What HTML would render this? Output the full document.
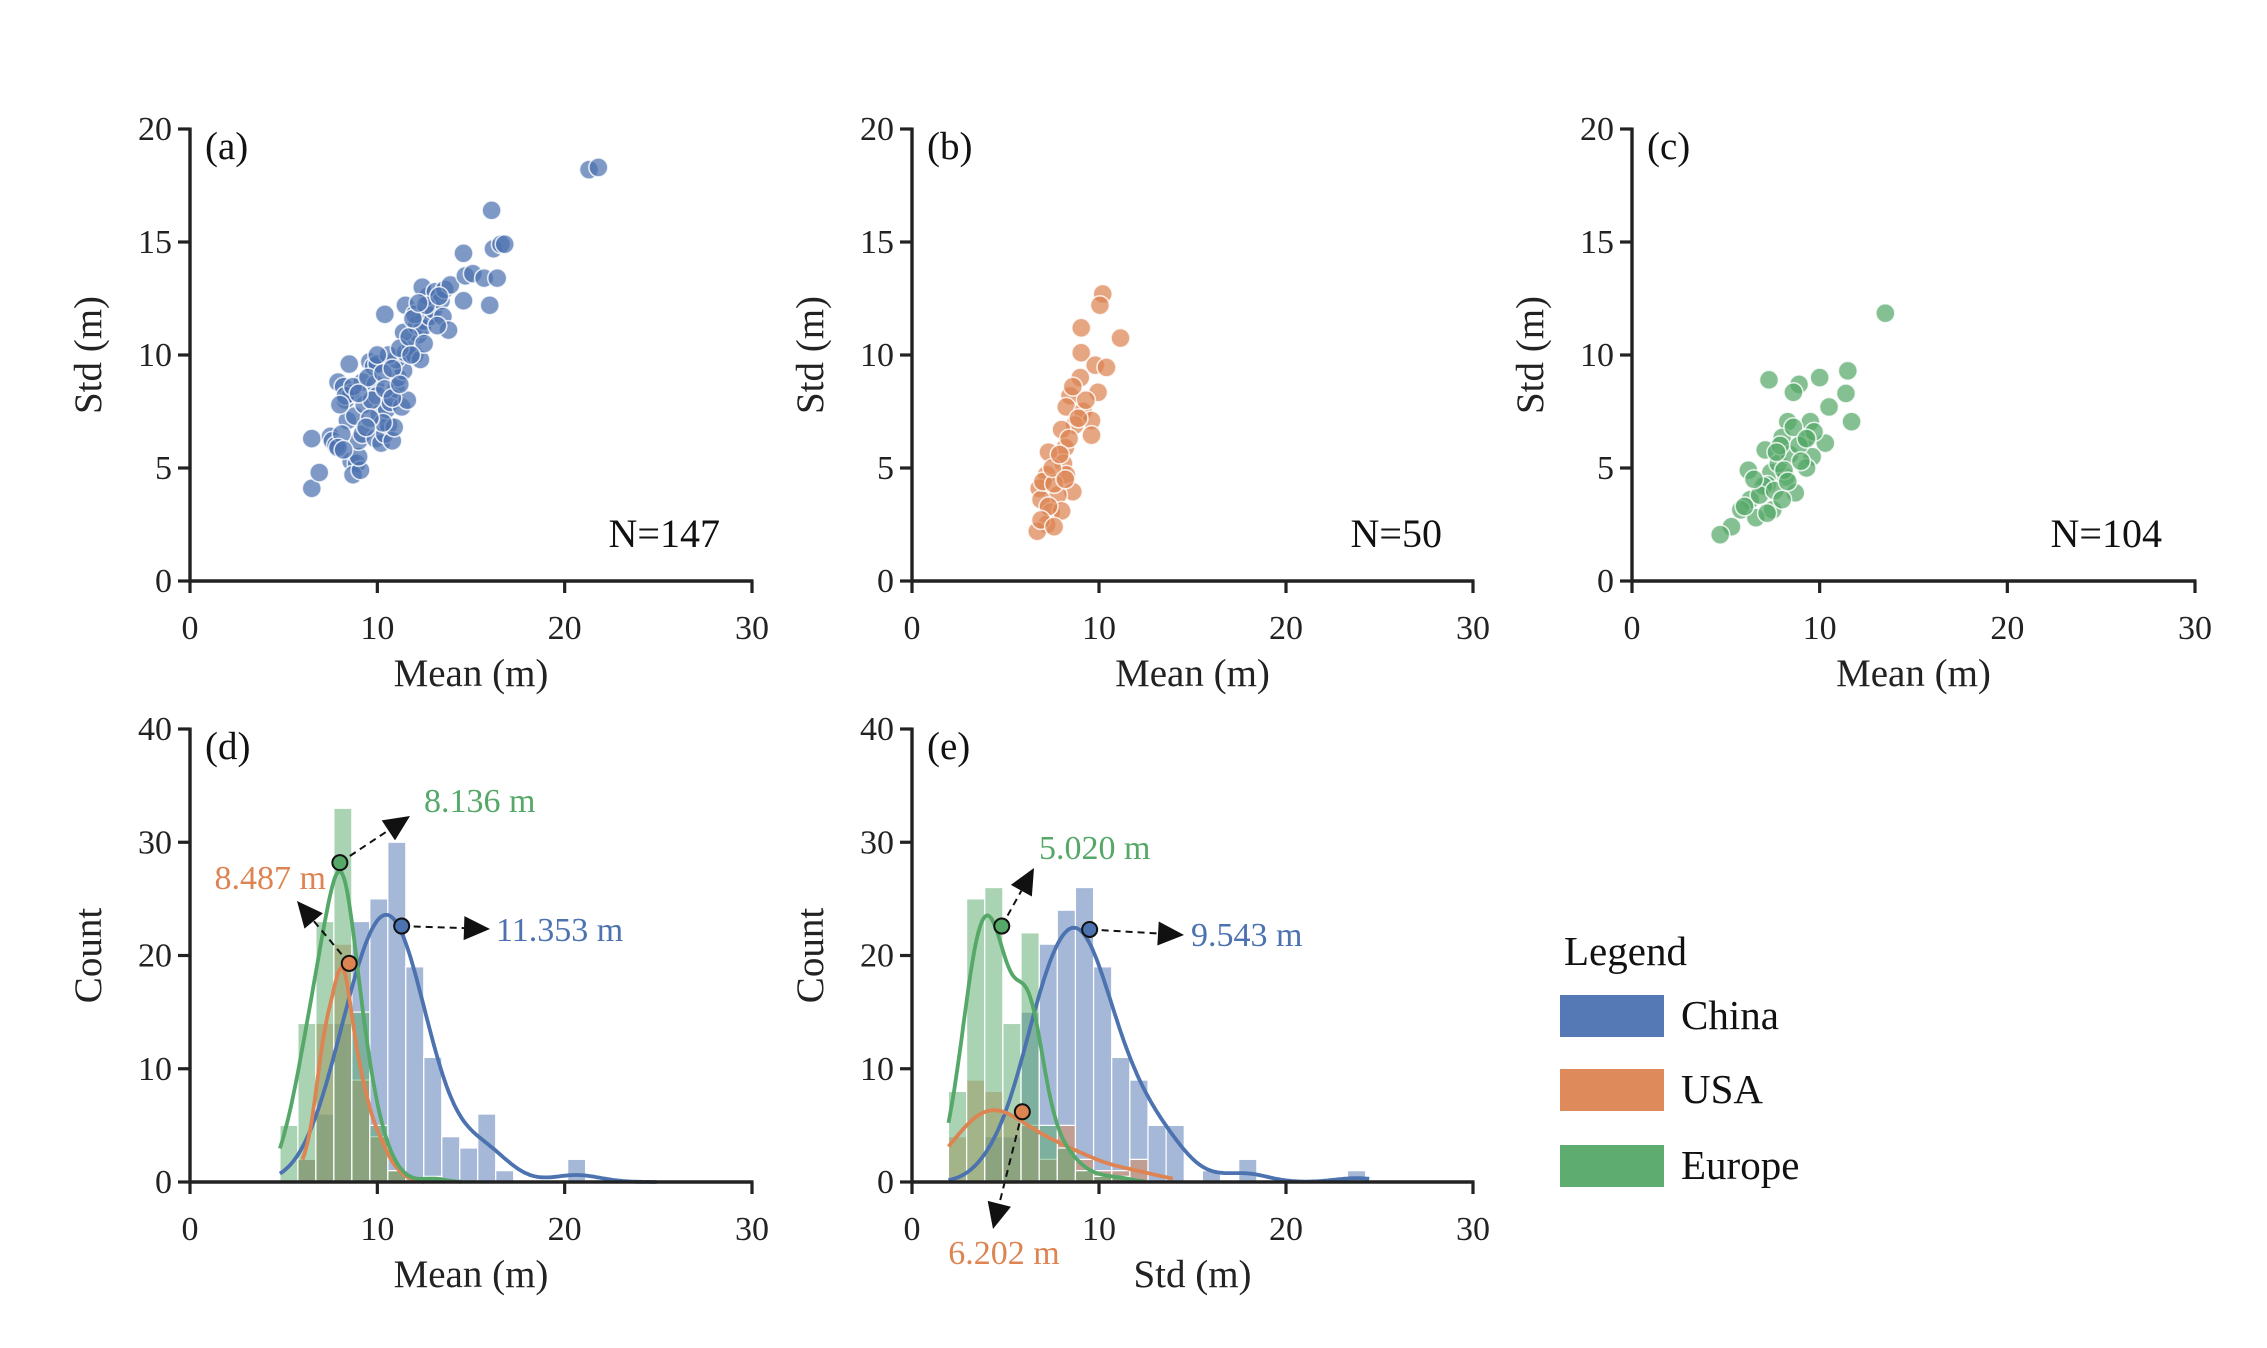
<!DOCTYPE html>
<html><head><meta charset="utf-8">
<style>
html,body{margin:0;padding:0;background:#fff;}
svg{display:block;font-family:"Liberation Serif",serif;}
</style></head>
<body>
<svg id="fig" width="2267" height="1348" viewBox="0 0 2267 1348" xmlns="http://www.w3.org/2000/svg">
<rect width="2267" height="1348" fill="#fff"/>
<g id="root"></g>
</svg>
<script>
// ---------- data ----------
const chinaMean=[6.5,6.9,6.5,7.5,7.6,7.8,7.9,8.2,8.5,8.3,8.6,8.4,8.6,8.9,8.7,9.1,9.0,9.0,9.2,8.8,9.3,9.2,9.6,9.8,10.0,9.9,10.0,10.1,9.9,10.2,10.4,10.6,10.8,10.9,10.5,10.7,11.0,11.3,11.6,11.1,11.4,11.0,10.6,11.5,11.8,12.0,12.3,12.2,11.4,10.4,11.5,12.1,12.5,12.4,12.8,13.0,12.7,12.4,13.1,13.4,13.5,13.8,13.6,13.9,14.6,14.7,14.6,15.1,15.7,16.0,16.4,16.2,16.6,16.8,16.1,21.3,21.8,8.3,8.7,9.5,9.7,10.3,10.4,10.8,11.2,11.7,12.0,12.6,13.2,10.3,9.6,9.4,10.8,11.2,12.5,9.0,8.0,8.1,7.9,8.2,10.0,11.8,11.9,12.2,13.3];
const chinaStd=[4.1,4.8,6.3,6.4,6.2,6.0,8.8,8.6,9.6,8.0,8.3,7.1,5.3,5.2,4.7,4.9,5.5,6.2,6.5,7.3,7.8,8.8,9.7,9.5,9.6,8.7,8.2,7.4,6.3,6.1,6.5,6.9,6.2,6.8,7.6,7.9,8.5,7.7,8.0,9.0,9.3,9.8,10.0,10.1,10.4,10.0,9.8,10.9,11.0,11.8,12.2,11.3,11.5,11.2,11.7,12.0,12.6,13.0,12.8,12.4,11.7,11.1,12.9,13.1,12.4,13.5,14.5,13.6,13.4,12.2,13.4,14.7,14.9,14.9,16.4,18.2,18.3,8.2,8.6,9.0,8.0,9.2,8.5,9.4,10.3,10.8,11.8,12.2,11.3,7.0,7.2,6.8,8.1,8.7,10.5,8.3,7.8,6.5,5.9,5.8,10.0,10.0,11.6,12.3,12.6];
const usaMean=[10.2,10.05,9.05,11.15,9.05,9.8,10.4,9.0,9.95,8.45,8.25,9.15,9.6,8.7,9.6,8.0,8.2,7.3,8.1,7.2,8.25,6.8,8.6,7.8,6.9,7.45,8.0,7.2,6.7,7.0,7.6,7.5,8.4,8.9,7.9,9.3,7.3,6.9,8.2,8.6,7.6];
const usaStd=[12.7,12.2,11.2,10.75,10.1,9.55,9.45,9.0,8.35,8.2,7.7,7.5,7.1,6.9,6.45,6.7,5.9,5.7,5.2,4.7,4.7,4.1,3.95,3.8,3.6,3.05,3.1,2.5,2.2,4.4,4.3,5.0,6.3,7.2,5.6,8.0,3.3,2.7,4.5,8.6,2.4];
const euMean=[13.5,7.3,8.9,8.6,10.0,11.5,11.4,10.5,11.7,8.3,9.5,8.0,9.2,10.3,7.1,9.6,6.2,7.4,9.3,8.2,7.2,8.7,6.3,5.8,7.5,6.6,5.3,4.7,7.8,8.4,8.9,7.0,6.8,7.6,8.1,9.0,8.6,7.9,9.7,6.0,7.2,8.0,6.5,7.7,9.3,8.3];
const euStd=[11.85,8.9,8.7,8.35,9.0,9.3,8.3,7.7,7.05,7.05,7.05,6.35,6.3,6.1,5.8,5.5,4.9,4.8,5.0,4.6,4.25,3.9,3.6,3.15,3.15,2.8,2.4,2.05,5.2,5.6,6.0,4.2,3.8,4.0,4.9,5.3,6.8,6.0,6.6,3.3,3.0,3.6,4.5,5.7,6.3,4.4];
// histogram (d): bins start 4.8, width 0.96
const dBinStart=4.8, dBinWidth=0.96;
const dChina=[0,2,6,14,23,25,30,19,11,4,3,6,1,0,0,0,2];
const dUSA=[0,2,14,21,9,4,1];
const dEurope=[5,14,23,33,15,5,1,0,0.5];
// histogram (e): bins start 1.95, width 0.97
const eBinStart=1.95, eBinWidth=0.97;
const eChina=[0,0,4,4,15,21,24,26,19,11,9,5,5,0,1,0,2,0,0,0,0,0,1];
const eUSA=[4,9,8,6,5,2,5,2,1,1,2];
const eEurope=[8,25,26,14,22,5,3,1,0.5,0.5];
const xTicks=[0,10,20,30];
const yTicksTop=[0,5,10,15,20];
const yTicksBot=[0,10,20,30,40];
const nLabels=["N=147","N=50","N=104"];

const C={china:"#4c72b0",usa:"#dd8452",eu:"#55a868"};
const NS="http://www.w3.org/2000/svg";
const root=document.getElementById('root');
function mk(tag,attrs,parent){const e=document.createElementNS(NS,tag);for(const k in attrs)e.setAttribute(k,attrs[k]);(parent||root).appendChild(e);return e;}
function txt(s,attrs,parent){const e=mk('text',attrs,parent);e.textContent=s;return e;}

function makeAxes(p){
  const g=mk('g',{});
  
  
  p.sx=v=>p.x0+(v/30)*(p.x1-p.x0);
  p.sy=v=>p.y0-(v/p.ymax)*(p.y0-p.yt);
  p.g=g;
  return p;
}
function drawFrame(p,yTicks,xl,yl,lab){
  const g=p.g;
  const ax=mk('g',{},g);
  
  
  mk('line',{x1:p.x0-1.5,y1:p.y0,x2:p.x1+1.5,y2:p.y0,stroke:'#222','stroke-width':3.4},ax);
  xTicks.forEach(t=>{
    mk('line',{x1:p.sx(t),y1:p.y0,x2:p.sx(t),y2:p.y0+12,stroke:'#222','stroke-width':3.2},ax);
    const l=txt(String(t),{x:p.sx(t),y:p.y0+58,'font-size':34,'text-anchor':'middle',fill:'#222'},ax);
    
    
  });
  const ay=mk('g',{},g);
  
  
  mk('line',{x1:p.x0,y1:p.y0+1.5,x2:p.x0,y2:p.yt-1.5,stroke:'#222','stroke-width':3.4},ay);
  yTicks.forEach(t=>{
    mk('line',{x1:p.x0-12,y1:p.sy(t),x2:p.x0,y2:p.sy(t),stroke:'#222','stroke-width':3.2},ay);
    const l=txt(String(t),{x:p.x0-18,y:p.sy(t)+11,'font-size':34,'text-anchor':'end',fill:'#222'},ay);
    
    
  });
  const xt=txt(xl,{x:(p.x0+p.x1)/2,y:p.y0+105,'font-size':39,'text-anchor':'middle',fill:'#222'},g);
  
  
  const cy=(p.y0+p.yt)/2, cx=p.x0-102;
  const yt=txt(yl,{x:cx,y:cy,'font-size':39,'text-anchor':'middle',fill:'#222',transform:`rotate(-90 ${cx} ${cy}) translate(0 13)`},g);
  
  
  const pl=txt(lab,{x:p.x0+15,y:p.yt+30,'font-size':39,fill:'#111'},g);
  
  
}
function scatter(p,xs,ys,col,n){
  const g=mk('g',{},p.g);
  
  
  xs.forEach((x,i)=>{
    const c=mk('circle',{cx:p.sx(x),cy:p.sy(ys[i]),r:9.5,fill:col,'fill-opacity':0.72,stroke:'#fff','stroke-opacity':0.8,'stroke-width':1.6},g);
    
    
  });
  const t=txt(n,{x:p.x0+530,y:p.y0-34,'font-size':40,'text-anchor':'end',fill:'#111'},p.g);
  
  
}
function hist(p,counts,start,w,col,name){
  const g=mk('g',{},p.g);
  
  
  counts.forEach((c,i)=>{
    if(c<=0)return;
    const xa=p.sx(start+i*w), xb=p.sx(start+(i+1)*w);
    const r=mk('rect',{x:xa,y:p.sy(c),width:xb-xa,height:p.y0-p.sy(c),fill:col,'fill-opacity':0.5,stroke:'#fff','stroke-width':1.2},g);
    
    
  });
}
function kde(p,counts,start,w,bw,col,name,xmin,xmax){
  const pts=[];
  for(let x=xmin;x<=xmax;x+=0.1){
    let s=0;
    counts.forEach((c,i)=>{const m=start+(i+0.5)*w;s+=c*w*Math.exp(-0.5*((x-m)/bw)**2)/(bw*Math.sqrt(2*Math.PI));});
    pts.push(p.sx(x).toFixed(1)+','+p.sy(s).toFixed(1));
  }
  const l=mk('polyline',{points:pts.join(' '),fill:'none',stroke:col,'stroke-width':3.8,'stroke-linejoin':'round'},p.g);
  
  
}
function annot(p,vx,vy,tx,ty,col,label,lx,ly,anchor,name){
  const g=mk('g',{},p.g);
  
  
  const px=p.sx(vx),py=p.sy(vy);
  const ang=Math.atan2(ty-py,tx-px), L=26, W=12;
  const bx=tx-L*Math.cos(ang), by=ty-L*Math.sin(ang);
  mk('line',{x1:px,y1:py,x2:bx,y2:by,stroke:'#111','stroke-width':2,'stroke-dasharray':'7 5'},g);
  const nx=-Math.sin(ang),ny=Math.cos(ang);
  mk('polygon',{points:`${tx},${ty} ${bx+nx*W},${by+ny*W} ${bx-nx*W},${by-ny*W}`,fill:'#111'},g);
  mk('circle',{cx:px,cy:py,r:7.5,fill:col,stroke:'#111','stroke-width':2},g);
  const t=txt(label,{x:lx,y:ly,'font-size':34,fill:col,'text-anchor':anchor},g);
  
  
}

// panels
const pa=makeAxes({name:'panel-a-china-scatter',x0:190,x1:752,y0:581,yt:129,ymax:20});
scatter(pa,chinaMean,chinaStd,C.china,nLabels[0]);
drawFrame(pa,yTicksTop,'Mean (m)','Std (m)','(a)');
const pb=makeAxes({name:'panel-b-usa-scatter',x0:912,x1:1473,y0:581,yt:129,ymax:20});
scatter(pb,usaMean,usaStd,C.usa,nLabels[1]);
drawFrame(pb,yTicksTop,'Mean (m)','Std (m)','(b)');
const pc=makeAxes({name:'panel-c-europe-scatter',x0:1632,x1:2195,y0:581,yt:129,ymax:20});
scatter(pc,euMean,euStd,C.eu,nLabels[2]);
drawFrame(pc,yTicksTop,'Mean (m)','Std (m)','(c)');

const pd=makeAxes({name:'panel-d-mean-histogram',x0:190,x1:752,y0:1182,yt:729,ymax:40});
hist(pd,dChina,dBinStart,dBinWidth,C.china,'china-bars');
hist(pd,dUSA,dBinStart,dBinWidth,C.usa,'usa-bars');
hist(pd,dEurope,dBinStart,dBinWidth,C.eu,'europe-bars');
kde(pd,dChina,dBinStart,dBinWidth,1.25,C.china,'china-kde',4.8,25);
kde(pd,dUSA,dBinStart,dBinWidth,0.5,C.usa,'usa-kde',6,12.5);
kde(pd,dEurope,dBinStart,dBinWidth,0.65,C.eu,'europe-kde',4.8,14.5);
annot(pd,8.0,28.2,410,816,C.eu,'8.136 m',424,812,'start','annotation-europe');
annot(pd,8.5,19.3,297,901,C.usa,'8.487 m',326,889,'end','annotation-usa');
annot(pd,11.3,22.6,490,929,C.china,'11.353 m',496,941,'start','annotation-china');
drawFrame(pd,yTicksBot,'Mean (m)','Count','(d)');

const pe=makeAxes({name:'panel-e-std-histogram',x0:912,x1:1473,y0:1182,yt:729,ymax:40});
hist(pe,eChina,eBinStart,eBinWidth,C.china,'china-bars');
hist(pe,eUSA,eBinStart,eBinWidth,C.usa,'usa-bars');
hist(pe,eEurope,eBinStart,eBinWidth,C.eu,'europe-bars');
kde(pe,eChina,eBinStart,eBinWidth,1.15,C.china,'china-kde',1.95,24.5);
kde(pe,eUSA,eBinStart,eBinWidth,1.5,C.usa,'usa-kde',1.95,14);
kde(pe,eEurope,eBinStart,eBinWidth,0.72,C.eu,'europe-kde',1.95,12.5);
annot(pe,4.8,22.6,1034,868,C.eu,'5.020 m',1039,859,'start','annotation-europe');
annot(pe,9.5,22.3,1184,935,C.china,'9.543 m',1191,946,'start','annotation-china');
annot(pe,5.9,6.2,993,1229,C.usa,'6.202 m',1004,1264,'middle','annotation-usa');
drawFrame(pe,yTicksBot,'Std (m)','Count','(e)');

// legend
const lg=mk('g',{});


const lt=txt('Legend',{x:1564,y:965,'font-size':41,fill:'#111'},lg);


const legNames=['China','USA','Europe'];
const legCols=[C.china,C.usa,C.eu];
const legY=[995,1069,1145];
legNames.forEach((n,i)=>{
  const e=mk('g',{},lg);
  
  
  mk('rect',{x:1560,y:legY[i],width:104,height:42,fill:legCols[i],'fill-opacity':0.95},e);
  txt(n,{x:1681,y:legY[i]+34,'font-size':41,fill:'#111'},e);
});
</script>
</body></html>
